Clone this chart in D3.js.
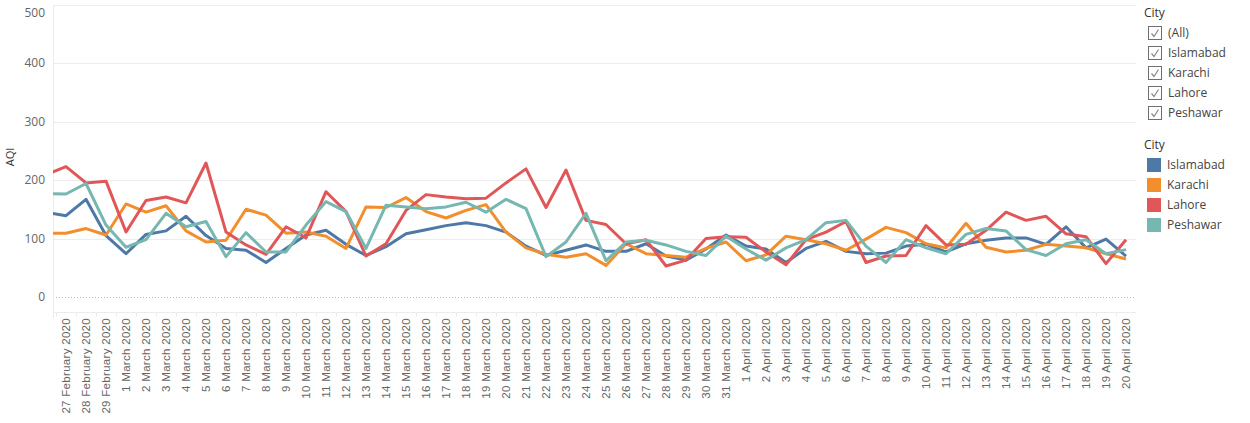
<!DOCTYPE html>
<html>
<head>
<meta charset="utf-8">
<script src="https://cdn.jsdelivr.net/npm/d3@7"></script>
<style>
  body { margin: 0; background: #fff; }
  svg { display: block; font-family: "Open Sans", sans-serif; }
</style>
</head>
<body>
<div id="chart"></div>
<script>
// Dates shown on the axis (first one is scrolled out of view, only its line stub shows)
const dates = [
  "26 February 2020", "27 February 2020", "28 February 2020", "29 February 2020",
  "1 March 2020", "2 March 2020", "3 March 2020", "4 March 2020", "5 March 2020",
  "6 March 2020", "7 March 2020", "8 March 2020", "9 March 2020", "10 March 2020",
  "11 March 2020", "12 March 2020", "13 March 2020", "14 March 2020", "15 March 2020",
  "16 March 2020", "17 March 2020", "18 March 2020", "19 March 2020", "20 March 2020",
  "21 March 2020", "22 March 2020", "23 March 2020", "24 March 2020", "25 March 2020",
  "26 March 2020", "27 March 2020", "28 March 2020", "29 March 2020", "30 March 2020",
  "31 March 2020", "1 April 2020", "2 April 2020", "3 April 2020", "4 April 2020",
  "5 April 2020", "6 April 2020", "7 April 2020", "8 April 2020", "9 April 2020",
  "10 April 2020", "11 April 2020", "12 April 2020", "13 April 2020", "14 April 2020",
  "15 April 2020", "16 April 2020", "17 April 2020", "18 April 2020", "19 April 2020",
  "20 April 2020"
];

const cities = ["Islamabad", "Karachi", "Lahore", "Peshawar"];
const colors = ["#4e79a7", "#f28e2b", "#e15759", "#76b7b2"];

const islamabad = [145, 139, 167, 105, 74, 107, 113, 138, 105, 83, 80, 59, 83, 106, 114, 90, 71, 86,
  108, 115, 122, 127, 122, 111, 87, 71, 80, 89, 78, 78, 91, 70, 63, 82, 106, 87, 82, 59, 83, 95, 78,
  74, 75, 87, 90, 77, 91, 97, 101, 101, 90, 120, 84, 99, 70];
const karachi = [109, 109, 117, 106, 159, 145, 156, 113, 94, 97, 150, 140, 109, 111, 104, 83, 154, 153,
  170, 146, 135, 148, 158, 111, 84, 73, 68, 74, 54, 91, 74, 71, 68, 83, 94, 62, 72, 104, 98, 91, 80,
  99, 119, 110, 91, 84, 126, 85, 77, 80, 90, 87, 84, 74, 65];
const lahore = [209, 223, 195, 198, 111, 165, 171, 161, 229, 111, 89, 73, 120, 101, 180, 146, 70, 91,
  148, 175, 171, 168, 169, 195, 219, 153, 217, 131, 124, 91, 98, 53, 63, 100, 103, 102, 77, 55, 98, 111,
  129, 59, 70, 71, 122, 89, 90, 114, 145, 131, 138, 108, 103, 57, 98];
const peshawar = [177, 176, 194, 123, 85, 98, 143, 120, 129, 69, 110, 77, 77, 123, 163, 146, 83, 157,
  154, 151, 154, 162, 145, 167, 151, 69, 94, 143, 62, 94, 97, 89, 78, 71, 104, 82, 63, 84, 98, 127, 131,
  87, 59, 98, 84, 74, 107, 117, 113, 81, 71, 91, 98, 74, 81];

const yTicks = [0, 100, 200, 300, 400, 500];
const filterItems = ["(All)", "Islamabad", "Karachi", "Lahore", "Peshawar"];

const seriesValues = [islamabad, karachi, lahore, peshawar];

const W = 1250, H = 423;
const paneLeft = 53, paneRight = 1136, paneTop = 5, zeroY = 297;

const svg = d3.select("#chart").append("svg")
  .attr("width", W).attr("height", H);

const x = d3.scaleBand().domain(dates).range([paneLeft - 17, paneRight]);
const y = d3.scaleLinear().domain([0, 500]).range([zeroY, 4.5]);
const cx = (d) => x(d) + x.bandwidth() / 2;

// clip for the scrolled pane
svg.append("clipPath").attr("id", "pane")
  .append("rect").attr("x", paneLeft).attr("y", 0)
  .attr("width", paneRight - paneLeft).attr("height", H);

// Horizontal grid lines
svg.append("g")
  .selectAll("line")
  .data(yTicks.filter((t) => t > 0))
  .join("line")
  .attr("x1", paneLeft).attr("x2", paneRight)
  .attr("y1", (d) => Math.round(y(d)) + 0.5).attr("y2", (d) => Math.round(y(d)) + 0.5)
  .attr("stroke", "#ececec");

// zero line, dotted
svg.append("line")
  .attr("x1", paneLeft).attr("x2", paneRight)
  .attr("y1", y(0) + 0.5).attr("y2", y(0) + 0.5)
  .attr("stroke", "#bdbdbd").attr("stroke-dasharray", "1,2");

// Y axis line and header bottom line
svg.append("line")
  .attr("x1", paneLeft + 0.5).attr("x2", paneLeft + 0.5)
  .attr("y1", paneTop).attr("y2", 318)
  .attr("stroke", "#ececec");
svg.append("line")
  .attr("x1", paneLeft).attr("x2", paneRight)
  .attr("y1", 312.5).attr("y2", 312.5)
  .attr("stroke", "#ececec");

// Y tick labels
svg.append("g")
  .selectAll("text")
  .data(yTicks)
  .join("text")
  .attr("x", 45)
  .attr("y", (d) => (d === 500 ? 13 : y(d)))
  .attr("dy", "0.35em")
  .attr("text-anchor", "end")
  .attr("font-size", 12)
  .attr("fill", "#666")
  .text((d) => d);

// Y title
svg.append("text")
  .attr("transform", "translate(14,157) rotate(-90)")
  .attr("text-anchor", "middle")
  .attr("font-size", 11)
  .attr("fill", "#333")
  .text("AQI");

// X header: dividers and rotated labels
const xg = svg.append("g").attr("clip-path", "url(#pane)");
xg.selectAll("line.div")
  .data(dates)
  .join("line")
  .attr("class", "div")
  .attr("x1", (d) => Math.round(x(d)) + 0.5).attr("x2", (d) => Math.round(x(d)) + 0.5)
  .attr("y1", 313).attr("y2", 317)
  .attr("stroke", "#ececec");
xg.selectAll("text")
  .data(dates)
  .join("text")
  .attr("transform", (d) => `translate(${cx(d) + 4},318) rotate(-90)`)
  .attr("text-anchor", "end")
  .attr("font-family", "Liberation Sans, Arial, sans-serif")
  .attr("font-size", 11.5)
  .attr("letter-spacing", 0.3)
  .attr("fill", "#666")
  .text((d) => d);

// Lines
const line = d3.line()
  .x((d, i) => cx(dates[i]))
  .y((d) => y(d));

svg.append("g").attr("clip-path", "url(#pane)")
  .selectAll("path")
  .data(seriesValues)
  .join("path")
  .attr("fill", "none")
  .attr("stroke", (d, i) => colors[i])
  .attr("stroke-width", 3)
  .attr("stroke-linejoin", "round")
  .attr("d", line);

// Filter card
const fx = 1144;
svg.append("text").attr("x", fx).attr("y", 13).attr("dy", "0.35em")
  .attr("font-size", 12).attr("fill", "#333").text("City");
const fItems = svg.append("g").selectAll("g")
  .data(filterItems)
  .join("g")
  .attr("transform", (d, i) => `translate(0,${33 + i * 20})`);
fItems.append("rect")
  .attr("x", 1148.5).attr("y", -6.5).attr("width", 13).attr("height", 13)
  .attr("fill", "#fff").attr("stroke", "#6e6e6e");
fItems.append("path")
  .attr("d", "M1151.5,0.5 L1154,3.5 L1158.5,-3.5")
  .attr("fill", "none").attr("stroke", "#888").attr("stroke-width", 1.2);
fItems.append("text")
  .attr("x", 1168).attr("dy", "0.35em")
  .attr("font-size", 12).attr("fill", "#444")
  .text((d) => d);

// Colour legend
svg.append("text").attr("x", fx).attr("y", 145).attr("dy", "0.35em")
  .attr("font-size", 12).attr("fill", "#333").text("City");
const lItems = svg.append("g").selectAll("g")
  .data(cities)
  .join("g")
  .attr("transform", (d, i) => `translate(0,${165 + i * 20})`);
lItems.append("rect")
  .attr("x", 1147).attr("y", -7).attr("width", 14).attr("height", 14)
  .attr("fill", (d, i) => colors[i]);
lItems.append("text")
  .attr("x", 1167).attr("dy", "0.35em")
  .attr("font-size", 12).attr("fill", "#444")
  .text((d) => d);
</script>
</body>
</html>
